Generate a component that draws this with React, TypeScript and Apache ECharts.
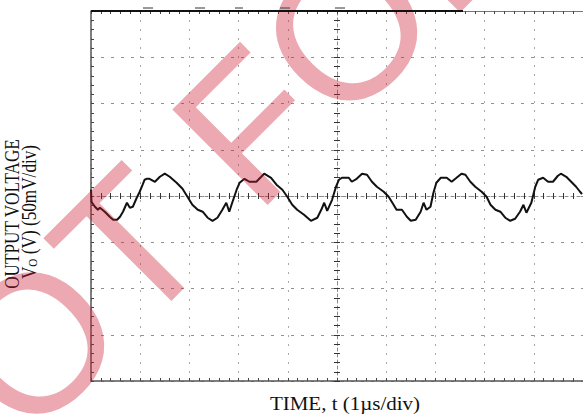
import React, { useEffect, useRef } from 'react';
import * as echarts from 'echarts';

// Waveform: time in µs (1 µs/div), output ripple in mV (50 mV/div)
const timeUs = [
  0, 0.01, 0.08, 0.14, 0.18, 0.28, 0.38, 0.45, 0.53, 0.59, 0.65, 0.73, 0.79, 0.85, 0.93, 0.99,
  1.05, 1.09, 1.13, 1.19, 1.3, 1.4, 1.5, 1.6, 1.74, 1.86, 1.96, 2.06, 2.17, 2.27, 2.37, 2.47,
  2.57, 2.67, 2.75, 2.81, 2.87, 2.96, 3.02, 3.12, 3.22, 3.36, 3.46, 3.52, 3.66, 3.77, 3.89, 3.99,
  4.09, 4.19, 4.33, 4.47, 4.6, 4.68, 4.74, 4.8, 4.9, 4.98, 5.04, 5.1, 5.24, 5.3, 5.4, 5.51,
  5.61, 5.71, 5.81, 5.95, 6.05, 6.15, 6.21, 6.32, 6.42, 6.5, 6.6, 6.7, 6.76, 6.82, 6.9, 6.96,
  7.02, 7.11, 7.23, 7.33, 7.43, 7.53, 7.61, 7.71, 7.81, 7.94, 8.04, 8.12, 8.22, 8.32, 8.42, 8.52,
  8.62, 8.72, 8.79, 8.85, 8.95, 9.03, 9.09, 9.19, 9.29, 9.39, 9.49, 9.55, 9.66, 9.76, 9.86, 9.94, 9.98,
];
const outputMv = [
  6.8, -6.2, -11.6, -14.9, -12.7, -17.0, -22.4, -25.7, -25.7, -22.4, -17.0, -7.3, -12.7, -11.6, -1.9, 4.6,
  12.2, 17.6, 18.6, 18.6, 15.4, 20.8, 24.1, 20.8, 14.3, 7.8, -0.8, -9.5, -14.9, -17.0, -23.5, -26.8,
  -23.5, -14.9, -7.3, -17.0, -7.3, 6.8, 14.3, 18.6, 15.4, 15.4, 20.8, 24.1, 19.7, 12.2, 6.8, -0.8,
  -9.5, -14.9, -20.3, -26.8, -23.5, -14.9, -7.3, -16.0, -4.1, 10.0, 17.6, 19.7, 19.7, 15.4, 18.6, 24.1,
  23.0, 15.4, 10.0, 4.6, -0.8, -9.5, -14.9, -14.9, -22.4, -26.8, -25.7, -17.0, -7.3, -14.9, -11.6, 3.5,
  14.3, 19.7, 19.7, 15.4, 19.7, 24.1, 23.0, 15.4, 10.0, 4.6, -0.8, -9.5, -14.9, -17.0, -23.5, -26.8,
  -24.6, -17.0, -9.5, -18.1, -7.3, 10.0, 17.6, 19.7, 15.4, 15.4, 21.9, 24.1, 20.8, 15.4, 10.0, 4.6, 2.0,
];

const xTitle = 'TIME, t (1µs/div)';
const yTitleLine1 = 'OUTPUT VOLTAGE';
const yTitleLine2Parts = ['V', 'O', ' (V) (50mV/div)'];
const watermark = 'NOT FOR NEW DESIGN';

const GRID = { left: 91, top: 11, width: 494, height: 370 };
const SERIF = '"Times New Roman", "Liberation Serif", serif';

export default function App() {
  const ref = useRef<HTMLDivElement>(null);

  useEffect(() => {
    if (!ref.current) return;
    const chart = echarts.init(ref.current, null, { renderer: 'svg' });

    const tickColor = '#444';
    const hidden = { show: false };

    const centerAxisX = (gridIndex: number, inside: boolean, showLine: boolean) => ({
      type: 'value' as const,
      gridIndex,
      min: -5,
      max: 5,
      interval: 1,
      axisLine: {
        show: true,
        onZero: true,
        lineStyle: { color: '#8a8a8a', width: 1, type: [3, 3], opacity: showLine ? 1 : 0 },
      },
      axisTick: { show: true, inside, length: 3, lineStyle: { color: '#333', width: 1 } },
      minorTick: { show: true, splitNumber: 5, length: 3, lineStyle: { color: '#333', width: 1 } },
      axisLabel: hidden,
      splitLine: hidden,
    });
    const centerAxisY = (gridIndex: number, inside: boolean, showLine: boolean) => ({
      type: 'value' as const,
      gridIndex,
      min: -200,
      max: 200,
      interval: 50,
      axisLine: {
        show: true,
        onZero: true,
        lineStyle: { color: '#8a8a8a', width: 1, type: [3, 3], opacity: showLine ? 1 : 0 },
      },
      axisTick: { show: true, inside, length: 3, lineStyle: { color: '#333', width: 1 } },
      minorTick: { show: true, splitNumber: 5, length: 3, lineStyle: { color: '#333', width: 1 } },
      axisLabel: hidden,
      splitLine: hidden,
    });

    chart.setOption({
      animation: false,
      backgroundColor: '#ffffff',
      grid: [
        { ...GRID, containLabel: false },
        { ...GRID, containLabel: false },
        { ...GRID, containLabel: false },
      ],
      xAxis: [
        {
          type: 'value',
          gridIndex: 0,
          min: 0,
          max: 10,
          interval: 1,
          position: 'bottom',
          axisLine: { show: true, onZero: false, lineStyle: { color: '#555', width: 1.5 } },
          axisTick: { show: true, inside: true, length: 3, lineStyle: { color: tickColor } },
          minorTick: { show: true, splitNumber: 5, length: 3, lineStyle: { color: tickColor } },
          axisLabel: hidden,
          splitLine: { show: true, lineStyle: { color: '#a8a8a8', width: 1, type: [2, 7] } },
        },
        {
          type: 'value',
          gridIndex: 0,
          min: 0,
          max: 10,
          interval: 1,
          position: 'top',
          axisLine: { show: true, onZero: false, lineStyle: { color: '#777', width: 1 } },
          axisTick: { show: true, inside: true, length: 3, lineStyle: { color: tickColor } },
          minorTick: { show: true, splitNumber: 5, length: 3, lineStyle: { color: tickColor } },
          axisLabel: hidden,
          splitLine: hidden,
        },
        centerAxisX(1, true, true),
        centerAxisX(2, false, false),
      ],
      yAxis: [
        {
          type: 'value',
          gridIndex: 0,
          min: -200,
          max: 200,
          interval: 50,
          position: 'left',
          axisLine: { show: true, onZero: false, lineStyle: { color: '#555', width: 1.5 } },
          axisTick: { show: true, inside: true, length: 3, lineStyle: { color: tickColor } },
          minorTick: { show: true, splitNumber: 5, length: 3, lineStyle: { color: tickColor } },
          axisLabel: hidden,
          splitLine: { show: true, lineStyle: { color: '#909090', width: 1, type: [3, 7] } },
        },
        centerAxisY(1, true, true),
        centerAxisY(2, false, false),
      ],
      series: [
        {
          type: 'line',
          xAxisIndex: 0,
          yAxisIndex: 0,
          data: timeUs.map((t, i) => [t, outputMv[i]]),
          showSymbol: false,
          symbol: 'none',
          smooth: false,
          lineStyle: { color: '#111', width: 2 },
          z: 5,
        },
      ],
      graphic: [
        {
          type: 'text',
          x: -120,
          y: 497,
          rotation: Math.PI / 4,
          z: 50,
          silent: true,
          style: {
            text: watermark,
            fontSize: 196,
            fontFamily: '"Liberation Sans", Arial, sans-serif',
            fill: 'rgba(205,30,50,0.38)',
            textAlign: 'left',
            textVerticalAlign: 'middle',
          },
        },
        {
          type: 'line',
          z: 60,
          shape: { x1: 91, y1: 11, x2: 463, y2: 11 },
          style: { stroke: '#111', lineWidth: 2 },
        },
        ...[[143, 153], [195, 205], [235, 243], [280, 290], [335, 345]].map(([a, b]) => ({
          type: 'line',
          z: 60,
          shape: { x1: a, y1: 8, x2: b, y2: 8 },
          style: { stroke: '#555', lineWidth: 1.2 },
        })),
        {
          type: 'text',
          x: 345,
          y: 403,
          scaleY: 0.92,
          z: 40,
          style: {
            text: xTitle,
            fontSize: 21,
            fontFamily: SERIF,
            fill: '#111',
            textAlign: 'center',
            textVerticalAlign: 'middle',
          },
        },
        {
          type: 'text',
          x: 12,
          y: 214,
          rotation: Math.PI / 2,
          scaleX: 0.86,
          z: 40,
          style: {
            text: yTitleLine1,
            fontSize: 20,
            fontFamily: SERIF,
            fill: '#111',
            textAlign: 'center',
            textVerticalAlign: 'middle',
          },
        },
        {
          type: 'text',
          x: 29.5,
          y: 212,
          rotation: Math.PI / 2,
          scaleX: 0.86,
          z: 40,
          style: {
            text: `{a|${yTitleLine2Parts[0]}}{b|${yTitleLine2Parts[1]}}{a|${yTitleLine2Parts[2]}}`,
            fontSize: 20,
            fontFamily: SERIF,
            fill: '#111',
            textAlign: 'center',
            textVerticalAlign: 'middle',
            rich: {
              a: { fontSize: 20, fontFamily: SERIF, fill: '#111' },
              b: { fontSize: 13, fontFamily: SERIF, fill: '#111', verticalAlign: 'bottom' },
            },
          },
        },
      ],
    });

    return () => chart.dispose();
  }, []);

  return (
    <div
      ref={ref}
      style={{ position: 'absolute', left: 0, top: 0, width: 583, height: 416, overflow: 'hidden' }}
    />
  );
}
